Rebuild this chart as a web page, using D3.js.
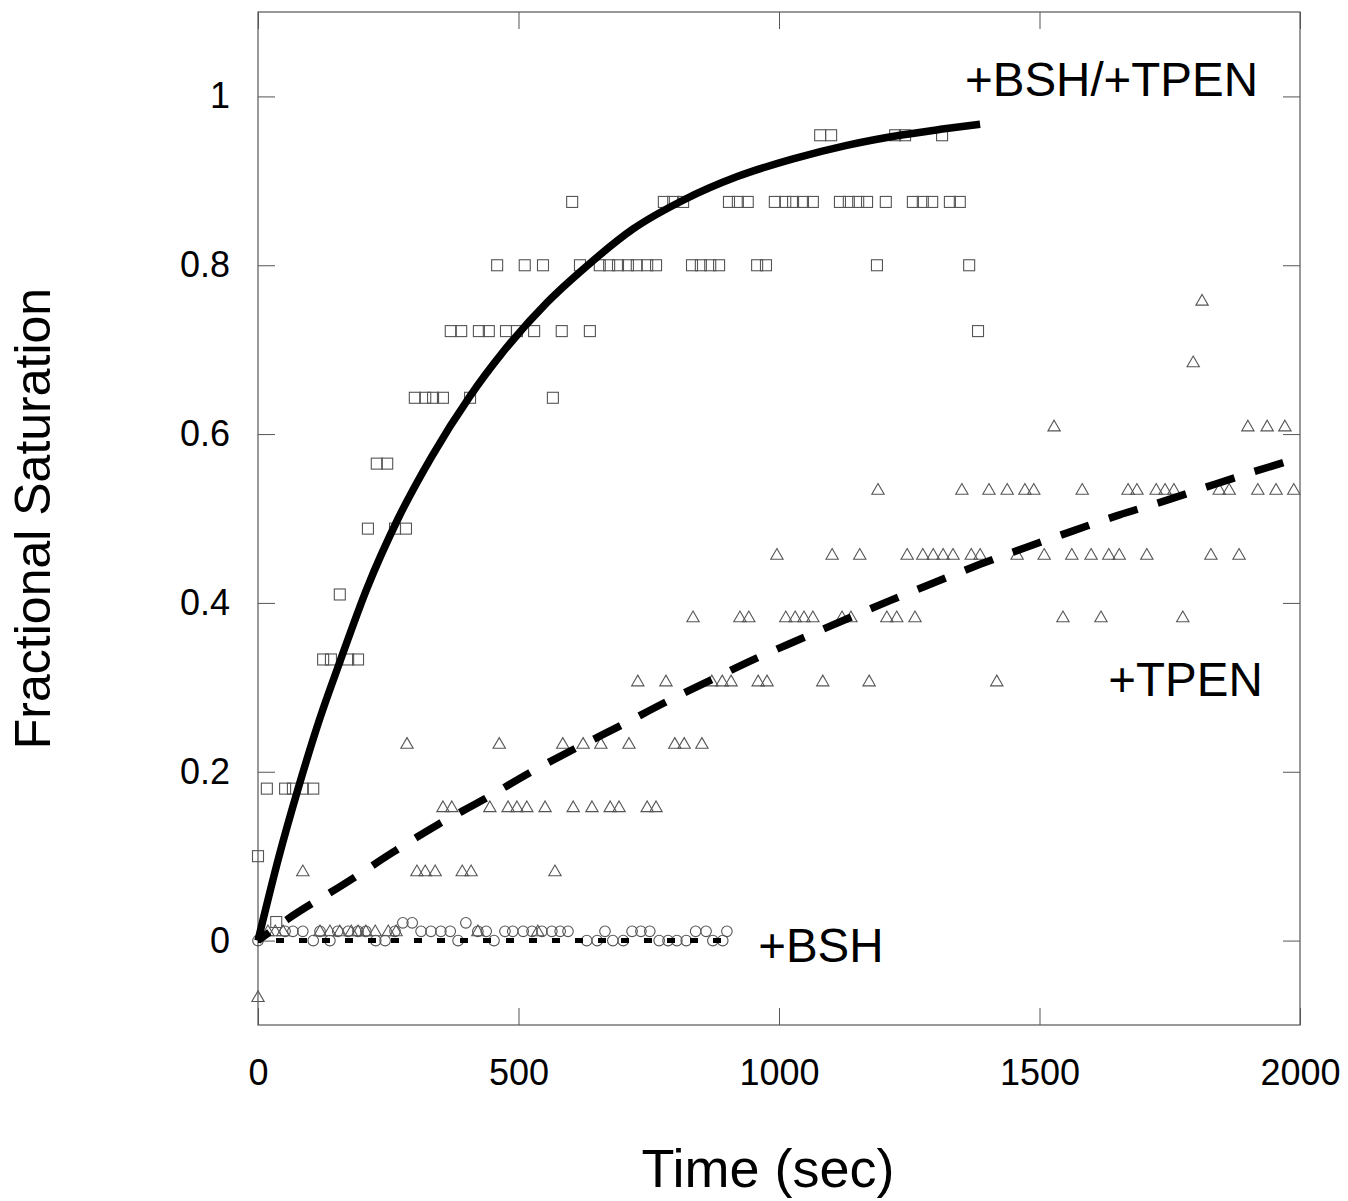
<!DOCTYPE html>
<html>
<head>
<meta charset="utf-8">
<script src="https://cdn.jsdelivr.net/npm/d3@7"></script>
<style>
  body { margin: 0; background: #fff; }
  svg { font-family: "Liberation Sans", Arial, sans-serif; }
  .tick text { font-size: 36px; fill: #000; }
  .tick line { stroke: #555; }
</style>
</head>
<body>
<div id="chart"></div>
<script>
// +BSH/+TPEN (squares): time in sec, fractional saturation
var bshTpenTime = [0, 17, 35, 52, 67, 86, 106, 125, 140, 157, 173, 192, 211, 228, 248, 263, 284, 301, 321, 336,
    355, 370, 390, 407, 424, 443, 459, 476, 497, 512, 530, 547, 566, 583, 603, 618, 637, 656, 674, 691,
    710, 727, 747, 764, 779, 797, 816, 833, 850, 868, 885, 904, 921, 940, 958, 975, 992, 1012, 1027, 1046,
    1065, 1079, 1100, 1117, 1134, 1152, 1169, 1188, 1205, 1223, 1242, 1257, 1276, 1294, 1313, 1328, 1347, 1365, 1382];
var bshTpenSat = [0.1, 0.18, 0.022, 0.18, 0.18, 0.18, 0.18, 0.333, 0.333, 0.41, 0.333, 0.333, 0.488, 0.565, 0.565, 0.488, 0.488, 0.643, 0.643, 0.643,
    0.643, 0.722, 0.722, 0.643, 0.722, 0.722, 0.8, 0.722, 0.722, 0.8, 0.722, 0.8, 0.643, 0.722, 0.875, 0.8, 0.722, 0.8, 0.8, 0.8,
    0.8, 0.8, 0.8, 0.8, 0.875, 0.875, 0.875, 0.8, 0.8, 0.8, 0.8, 0.875, 0.875, 0.875, 0.8, 0.8, 0.875, 0.875, 0.875, 0.875,
    0.875, 0.954, 0.954, 0.875, 0.875, 0.875, 0.875, 0.8, 0.875, 0.954, 0.954, 0.875, 0.875, 0.875, 0.954, 0.875, 0.875, 0.8, 0.722];

// +TPEN (triangles)
var tpenTime = [0, 19, 33, 48, 119, 138, 157, 179, 192, 207, 225, 250, 265, 422, 537,
    86, 305, 321, 340, 392, 409, 570,
    355, 372, 445, 480, 497, 516, 551, 605, 641, 676, 693, 747, 764,
    286, 463, 585, 624, 658, 712, 800, 818, 852,
    729, 783, 871, 891, 908, 960, 977, 1084, 1173, 1418,
    835, 925, 942, 1013, 1031, 1048, 1065, 1121, 1138, 1207, 1226, 1261, 1545, 1618, 1775,
    996, 1102, 1155, 1246, 1276, 1296, 1315, 1334, 1369, 1386, 1457, 1509, 1562, 1599, 1633, 1653, 1706, 1829, 1883,
    1190, 1351, 1403, 1438, 1472, 1489, 1582, 1670, 1687, 1724, 1741, 1758, 1845, 1864, 1919, 1954, 1988,
    1528, 1900, 1937, 1971, 1795, 1812];
var tpenSat = [-0.068, 0.01, 0.01, 0.01, 0.01, 0.01, 0.01, 0.01, 0.01, 0.01, 0.01, 0.01, 0.01, 0.01, 0.01,
    0.081, 0.081, 0.081, 0.081, 0.081, 0.081, 0.081,
    0.157, 0.157, 0.157, 0.157, 0.157, 0.157, 0.157, 0.157, 0.157, 0.157, 0.157, 0.157, 0.157,
    0.232, 0.232, 0.232, 0.232, 0.232, 0.232, 0.232, 0.232, 0.232,
    0.306, 0.306, 0.306, 0.306, 0.306, 0.306, 0.306, 0.306, 0.306, 0.306,
    0.382, 0.382, 0.382, 0.382, 0.382, 0.382, 0.382, 0.382, 0.382, 0.382, 0.382, 0.382, 0.382, 0.382, 0.382,
    0.456, 0.456, 0.456, 0.456, 0.456, 0.456, 0.456, 0.456, 0.456, 0.456, 0.456, 0.456, 0.456, 0.456, 0.456, 0.456, 0.456, 0.456, 0.456,
    0.533, 0.533, 0.533, 0.533, 0.533, 0.533, 0.533, 0.533, 0.533, 0.533, 0.533, 0.533, 0.533, 0.533, 0.533, 0.533, 0.533,
    0.608, 0.608, 0.608, 0.608, 0.684, 0.757];

// +BSH (circles)
var bshTime = [0, 106, 138, 226, 244, 384, 453, 631, 651, 681, 701, 770, 787, 804, 822, 873, 892,
    52, 67, 86, 119, 153, 173, 192, 207, 263, 313, 332, 351, 369, 422, 438, 474, 489, 509, 526,
    545, 564, 580, 595, 666, 718, 735, 752, 840, 860, 900,
    278, 296, 399];
var bshSat = [0, 0, 0, 0, 0, 0, 0, 0, 0, 0, 0, 0, 0, 0, 0, 0, 0,
    0.011, 0.011, 0.011, 0.011, 0.011, 0.011, 0.011, 0.011, 0.011, 0.011, 0.011, 0.011, 0.011, 0.011, 0.011, 0.011, 0.011, 0.011, 0.011,
    0.011, 0.011, 0.011, 0.011, 0.011, 0.011, 0.011, 0.011, 0.011, 0.011, 0.011,
    0.021, 0.021, 0.021];

// fitted curves
var fitBshTpenTime = [0, 40, 77, 117, 157, 209, 269, 334, 407, 470, 555, 631, 720, 816, 920, 1027, 1130, 1232, 1310, 1386];
var fitBshTpenSat = [0, 0.099, 0.18, 0.26, 0.33, 0.417, 0.5, 0.574, 0.645, 0.697, 0.756, 0.799, 0.843, 0.877, 0.905, 0.926, 0.942, 0.954, 0.961, 0.967];
var fitTpenTime = [0, 56, 168, 260, 344, 433, 519, 607, 694, 781, 867, 955, 1040, 1130, 1214, 1302, 1387, 1475, 1563, 1652, 1736, 1824, 1909, 2000];
var fitTpenSat = [0, 0.025, 0.068, 0.105, 0.137, 0.167, 0.198, 0.227, 0.254, 0.282, 0.308, 0.334, 0.357, 0.381, 0.403, 0.425, 0.446, 0.466, 0.485, 0.504, 0.52, 0.538, 0.555, 0.572];
var fitBshTime = [0, 890];
var fitBshSat = [0, 0];

var xTicks = [0, 500, 1000, 1500, 2000];
var yTicks = [0, 0.2, 0.4, 0.6, 0.8, 1];

var labels = [
    {text: "+BSH/+TPEN", t: 1357, v: 1.0},
    {text: "+TPEN", t: 1632, v: 0.29},
    {text: "+BSH", t: 960, v: -0.025}
];

var margin = {top: 12, right: 48, bottom: 176, left: 258};
var totalW = 1348, totalH = 1201;
var width = totalW - margin.left - margin.right;
var height = totalH - margin.top - margin.bottom;

var svg = d3.select('#chart').
    append('svg').
    attr('width', totalW).
    attr('height', totalH).
    append('g').
    attr('transform', 'translate(' + margin.left + ',' + margin.top + ')');

var x = d3.scaleLinear().domain([0, 2000]).range([0, width]);
var y = d3.scaleLinear().domain([-0.1, 1.1]).range([height, 0]);

function fmt(d) { return String(+d.toFixed(1)); }

// axes with inward ticks on all four sides
svg.append('g').attr('class', 'x axis').
    attr('transform', 'translate(0,' + height + ')').
    call(d3.axisBottom(x).tickValues(xTicks).tickFormat(fmt).tickSizeInner(-17).tickSizeOuter(0).tickPadding(46));
svg.append('g').attr('class', 'x axis top').
    call(d3.axisTop(x).tickValues(xTicks).tickFormat('').tickSizeInner(-17).tickSizeOuter(0));
svg.append('g').attr('class', 'y axis').
    call(d3.axisLeft(y).tickValues(yTicks).tickFormat(fmt).tickSizeInner(-17).tickSizeOuter(0).tickPadding(28));
svg.append('g').attr('class', 'y axis right').
    attr('transform', 'translate(' + width + ',0)').
    call(d3.axisRight(y).tickValues(yTicks).tickFormat('').tickSizeInner(-17).tickSizeOuter(0));

svg.selectAll('.axis .domain').remove();
svg.selectAll('.x.axis .tick text').attr('dy', '0.4em');

svg.append('rect').
    attr('width', width).
    attr('height', height).
    attr('fill', 'none').
    attr('stroke', '#555').
    attr('stroke-width', 1.2);

function pairs(ts, vs) {
    return ts.map(function(t, i) { return {t: t, v: vs[i]}; });
}

var line = d3.line().
    x(function(d) { return x(d.t); }).
    y(function(d) { return y(d.v); }).
    curve(d3.curveMonotoneX);

// markers
var mk = {stroke: '#555', 'stroke-width': 1.1, fill: 'none'};

svg.append('g').selectAll('circle').
    data(pairs(bshTime, bshSat)).
    enter().append('circle').
    attr('cx', function(d) { return x(d.t); }).
    attr('cy', function(d) { return y(d.v); }).
    attr('r', 5.3).
    attr('fill', mk.fill).attr('stroke', mk.stroke).attr('stroke-width', mk['stroke-width']);

var tri = d3.symbol().type(d3.symbolTriangle).size(66);
svg.append('g').selectAll('path').
    data(pairs(tpenTime, tpenSat)).
    enter().append('path').
    attr('d', tri).
    attr('transform', function(d) { return 'translate(' + x(d.t) + ',' + y(d.v) + ')'; }).
    attr('fill', mk.fill).attr('stroke', mk.stroke).attr('stroke-width', mk['stroke-width']);

svg.append('g').selectAll('rect').
    data(pairs(bshTpenTime, bshTpenSat)).
    enter().append('rect').
    attr('x', function(d) { return x(d.t) - 5.5; }).
    attr('y', function(d) { return y(d.v) - 5.5; }).
    attr('width', 11).
    attr('height', 11).
    attr('fill', mk.fill).attr('stroke', mk.stroke).attr('stroke-width', mk['stroke-width']);

// fit lines
svg.append('path').
    datum(pairs(fitBshTime, fitBshSat)).
    attr('d', line).
    attr('fill', 'none').
    attr('stroke', '#000').
    attr('stroke-width', 5).
    attr('stroke-dasharray', '8,15').
    attr('stroke-dashoffset', -18);

svg.append('path').
    datum(pairs(fitTpenTime, fitTpenSat)).
    attr('d', line).
    attr('fill', 'none').
    attr('stroke', '#000').
    attr('stroke-width', 7.5).
    attr('stroke-dasharray', '30,21').
    attr('stroke-dashoffset', 16);

svg.append('path').
    datum(pairs(fitBshTpenTime, fitBshTpenSat)).
    attr('d', line).
    attr('fill', 'none').
    attr('stroke', '#000').
    attr('stroke-width', 7.5);

// curve labels
svg.selectAll('.curve-label').
    data(labels).
    enter().append('text').
    attr('class', 'curve-label').
    attr('x', function(d) { return x(d.t); }).
    attr('y', function(d) { return y(d.v); }).
    attr('font-size', 47.5).
    text(function(d) { return d.text; });

// axis titles
svg.append('text').
    attr('x', width / 2 - 11).
    attr('y', height + 162).
    attr('text-anchor', 'middle').
    attr('font-size', 54).
    text('Time (sec)');

svg.append('text').
    attr('transform', 'translate(' + (-208) + ',' + (height / 2) + ') rotate(-90)').
    attr('text-anchor', 'middle').
    attr('font-size', 50).
    text('Fractional Saturation');
</script>
</body>
</html>
